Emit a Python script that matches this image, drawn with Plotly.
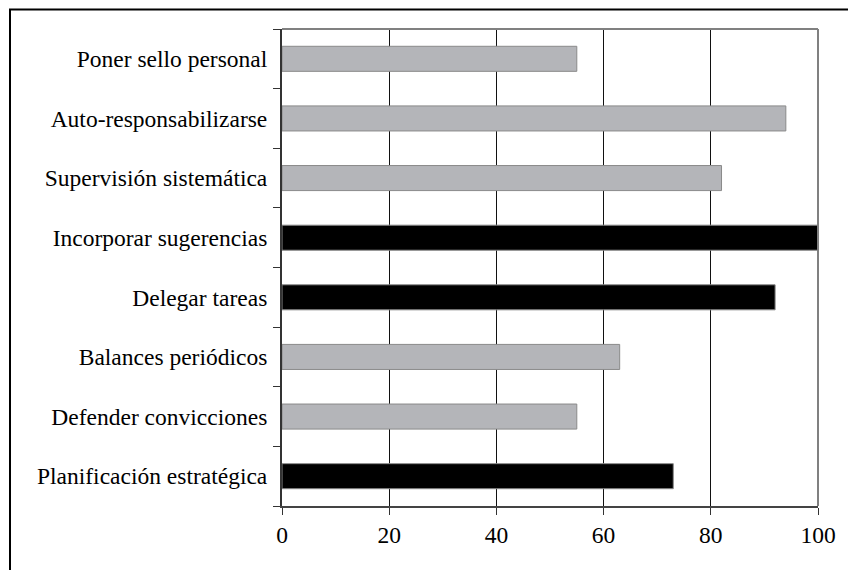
import plotly.graph_objects as go

categories = [
    "Planificación estratégica",
    "Defender convicciones",
    "Balances periódicos",
    "Delegar tareas",
    "Incorporar sugerencias",
    "Supervisión sistemática",
    "Auto-responsabilizarse",
    "Poner sello personal",
]
values = [73, 55, 63, 92, 100, 82, 94, 55]
highlighted = ["Planificación estratégica", "Delegar tareas", "Incorporar sugerencias"]
x_ticks = [0, 20, 40, 60, 80, 100]

W, H = 848, 570
L, R, T, B = 282, 30, 29, 64
pw, ph = W - L - R, H - T - B

colors = ["#000000" if c in highlighted else "#b4b5b9" for c in categories]

fig = go.Figure(go.Bar(
    x=values, y=categories, orientation="h",
    marker=dict(color=colors, line=dict(color="#8a8a8a", width=1)),
    hoverinfo="skip",
))

font = dict(family="Liberation Serif, Times New Roman, serif", size=23.5, color="#000")

fig.update_layout(
    width=W, height=H,
    margin=dict(l=L, r=R, t=T, b=B, pad=0),
    paper_bgcolor="white", plot_bgcolor="white",
    bargap=0.58,
    showlegend=False,
    font=font,
    xaxis=dict(
        range=[0, 100], tickvals=x_ticks, ticktext=[str(v) for v in x_ticks],
        showgrid=True, gridcolor="#111", gridwidth=1,
        zeroline=False, showline=True, linecolor="#444", linewidth=2,
        ticks="outside", ticklen=7, tickcolor="#333", tickwidth=1,
        ticklabelstandoff=0, tickfont=font, fixedrange=True,
    ),
    yaxis=dict(
        categoryorder="array", categoryarray=categories,
        tickson="boundaries", ticks="outside", ticklen=7, tickcolor="#333", tickwidth=1,
        showgrid=False, zeroline=False, showline=True, linecolor="#333", linewidth=2,
        ticklabelstandoff=8, tickfont=font, fixedrange=True,
    ),
    shapes=[
        # top and right plot border (grey)
        dict(type="line", xref="paper", yref="paper", x0=0, x1=1, y0=1, y1=1,
             line=dict(color="#808080", width=2), layer="above"),
        dict(type="line", xref="paper", yref="paper", x0=1, x1=1, y0=0, y1=1,
             line=dict(color="#808080", width=2), layer="above"),
        # outer frame
        dict(type="rect", xref="paper", yref="paper",
             x0=(10 - L) / pw, x1=(W + 20 - L) / pw,
             y0=-(H + 20 - T - ph) / ph, y1=(ph + T - 9.5) / ph,
             line=dict(color="#000", width=2), layer="above"),
    ],
)

fig.write_html(
    "out.html",
    config={"displayModeBar": False},
    post_script="document.body.style.margin='0';document.body.style.overflow='hidden';",
)
